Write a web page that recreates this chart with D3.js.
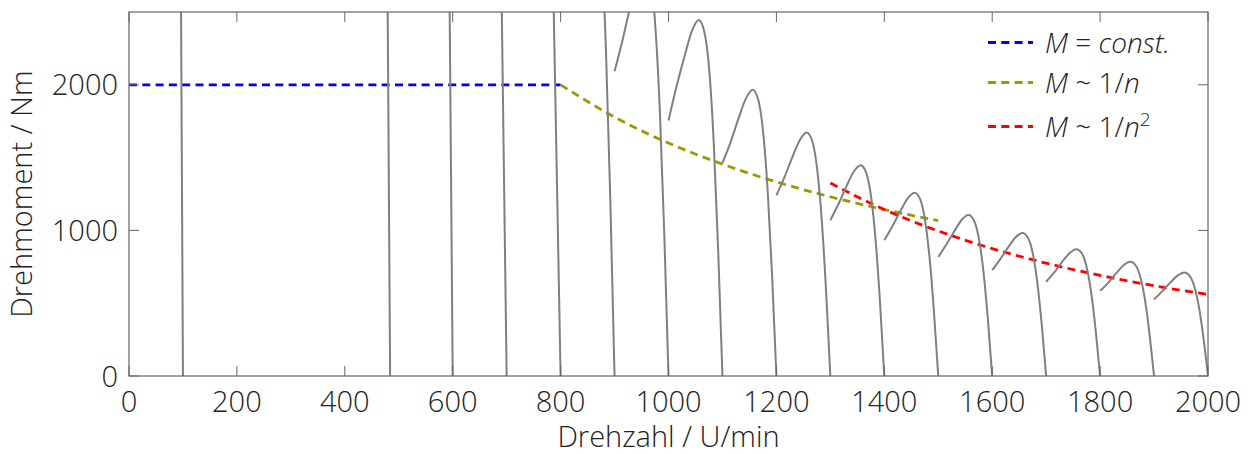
<!DOCTYPE html>
<html>
<head>
<meta charset="utf-8">
<script src="https://cdn.jsdelivr.net/npm/d3@7"></script>
<style>
  body { margin: 0; background: #fff; }
  text { font-family: "Open Sans", sans-serif; font-weight: 300; fill: #222; }
</style>
</head>
<body>
<svg id="chart" width="1259" height="454"></svg>
<script>
// Axis ticks
const xTicks = [0, 200, 400, 600, 800, 1000, 1200, 1400, 1600, 1800, 2000];
const yTicks = [0, 1000, 2000];

// Envelope curves [speed U/min, torque Nm]
const constTorque = [[0, 2000], [800, 2000]];
const inverseTorque = [[800, 2000], [900, 1778], [1000, 1600], [1100, 1455], [1200, 1333], [1300, 1231], [1400, 1143], [1500, 1067]];
const inverseSquareTorque = [[1300, 1325], [1400, 1143], [1500, 996], [1600, 875], [1700, 775], [1800, 691], [1900, 620], [2000, 560]];

// Steep characteristic lines at low synchronous speed: speed at top of range, speed at zero torque
const steepSync = [100, 484, 600, 700, 800];
const steepTopSpeed = [96.5, 479.5, 594.4, 691, 787.3];

// Motor characteristics: synchronous speed, slip offsets below it, torque at each offset
const syncSpeeds = [900, 1000, 1100, 1200, 1300, 1400, 1500, 1600, 1700, 1800, 1900, 2000];
const slipSteps = [100, 85, 70, 56, 44, 34, 24, 16, 8, 0];
const curveTorques = [
  [2575, 2850, 3150, 3390, 3494, 3381, 2938, 2244, 1230, 0],
  [2093, 2310, 2550, 2750, 2830, 2740, 2380, 1818, 996, 0],
  [1755, 1990, 2200, 2375, 2445, 2370, 2080, 1590, 870, 0],
  [1463, 1605, 1771, 1910, 1966, 1902, 1653, 1263, 692, 0],
  [1241, 1366, 1507, 1625, 1673, 1619, 1407, 1075, 589, 0],
  [1070, 1181, 1304, 1406, 1447, 1400, 1217, 929, 509, 0],
  [932, 1028, 1134, 1223, 1259, 1218, 1059, 809, 443, 0],
  [818, 903, 996, 1075, 1106, 1070, 930, 710, 389, 0],
  [727, 803, 886, 955, 983, 951, 827, 631, 346, 0],
  [647, 711, 785, 846, 871, 843, 732, 559, 307, 0],
  [585, 640, 706, 762, 784, 759, 659, 504, 276, 0],
  [526, 581, 641, 691, 711, 688, 598, 457, 250, 0]
];

// Legend entries
const legendColors = ["#0000ff", "#9c9800", "#ff0000"];

const svg = d3.select("#chart");
const L = 129, R = 1208, T = 12, B = 376;
const x = d3.scaleLinear().domain([0, 2000]).range([L, R]);
const y = d3.scaleLinear().domain([0, 2500]).range([B, T]);

svg.append("defs").append("clipPath").attr("id", "plotClip")
  .append("rect").attr("x", L).attr("y", T).attr("width", R - L).attr("height", B - T);

const plot = svg.append("g").attr("clip-path", "url(#plotClip)");
const line = d3.line().x(d => x(d[0])).y(d => y(d[1]));
const smooth = d3.line().x(d => x(d[0])).y(d => y(d[1])).curve(d3.curveMonotoneX);

const dash = "8 5.3";
[constTorque, inverseTorque, inverseSquareTorque].forEach((data, i) => {
  plot.append("path").datum(data)
    .attr("d", smooth)
    .attr("fill", "none")
    .attr("stroke", legendColors[i])
    .attr("stroke-width", 2.8)
    .attr("stroke-dasharray", dash);
});

const gray = "#808080";
steepSync.forEach((n0, i) => {
  plot.append("path").datum([[steepTopSpeed[i], 2500], [n0, 0]])
    .attr("d", line)
    .attr("fill", "none").attr("stroke", gray).attr("stroke-width", 2);
});
syncSpeeds.forEach((n0, i) => {
  const pts = slipSteps.map((s, j) => [n0 - s, curveTorques[i][j]]);
  plot.append("path").datum(pts)
    .attr("d", smooth)
    .attr("fill", "none").attr("stroke", gray).attr("stroke-width", 2);
});

// Frame and inward ticks on all four sides
const axisColor = "#666";
svg.append("rect").attr("x", L).attr("y", T).attr("width", R - L).attr("height", B - T)
  .attr("fill", "none").attr("stroke", axisColor).attr("stroke-width", 1.2);

const tickLen = 10;
const ticks = svg.append("g").attr("stroke", axisColor).attr("stroke-width", 1);
xTicks.forEach(v => {
  ticks.append("line").attr("x1", x(v)).attr("x2", x(v)).attr("y1", B).attr("y2", B - tickLen);
  ticks.append("line").attr("x1", x(v)).attr("x2", x(v)).attr("y1", T).attr("y2", T + tickLen);
});
yTicks.forEach(v => {
  ticks.append("line").attr("x1", L).attr("x2", L + tickLen).attr("y1", y(v)).attr("y2", y(v));
  ticks.append("line").attr("x1", R).attr("x2", R - tickLen).attr("y1", y(v)).attr("y2", y(v));
});

const fs = 29;
svg.append("g").selectAll("text").data(xTicks).join("text")
  .attr("x", d => x(d)).attr("y", 412)
  .attr("text-anchor", "middle").attr("font-size", fs)
  .text(d => d);
svg.append("g").selectAll("text").data(yTicks).join("text")
  .attr("x", 118).attr("y", d => y(d) + 10.5)
  .attr("text-anchor", "end").attr("font-size", fs)
  .text(d => d);

svg.append("text").attr("x", (L + R) / 2).attr("y", 447)
  .attr("text-anchor", "middle").attr("font-size", fs)
  .text("Drehzahl / U/min");
svg.append("text")
  .attr("transform", `translate(32,${(T + B) / 2}) rotate(-90)`)
  .attr("text-anchor", "middle").attr("font-size", fs)
  .text("Drehmoment / Nm");

// Legend
const lfs = 28;
const legendRows = [53, 93, 137];
const legend = svg.append("g");
legendRows.forEach((by, i) => {
  legend.append("line")
    .attr("x1", 988).attr("x2", 1033)
    .attr("y1", by - 10.5).attr("y2", by - 10.5)
    .attr("stroke", legendColors[i]).attr("stroke-width", 2.8)
    .attr("stroke-dasharray", dash);
});
const t1 = legend.append("text").attr("x", 1045).attr("y", legendRows[0]).attr("font-size", lfs);
t1.append("tspan").attr("font-style", "italic").text("M");
t1.append("tspan").text(" = ");
t1.append("tspan").attr("font-style", "italic").text("const.");

const t2 = legend.append("text").attr("x", 1045).attr("y", legendRows[1]).attr("font-size", lfs);
t2.append("tspan").attr("font-style", "italic").text("M");
t2.append("tspan").text(" ~ 1/");
t2.append("tspan").attr("font-style", "italic").text("n");

const t3 = legend.append("text").attr("x", 1045).attr("y", legendRows[2]).attr("font-size", lfs);
t3.append("tspan").attr("font-style", "italic").text("M");
t3.append("tspan").text(" ~ 1/");
t3.append("tspan").attr("font-style", "italic").text("n");
t3.append("tspan").attr("font-size", 19).attr("dy", -11).text("2");
</script>
</body>
</html>
